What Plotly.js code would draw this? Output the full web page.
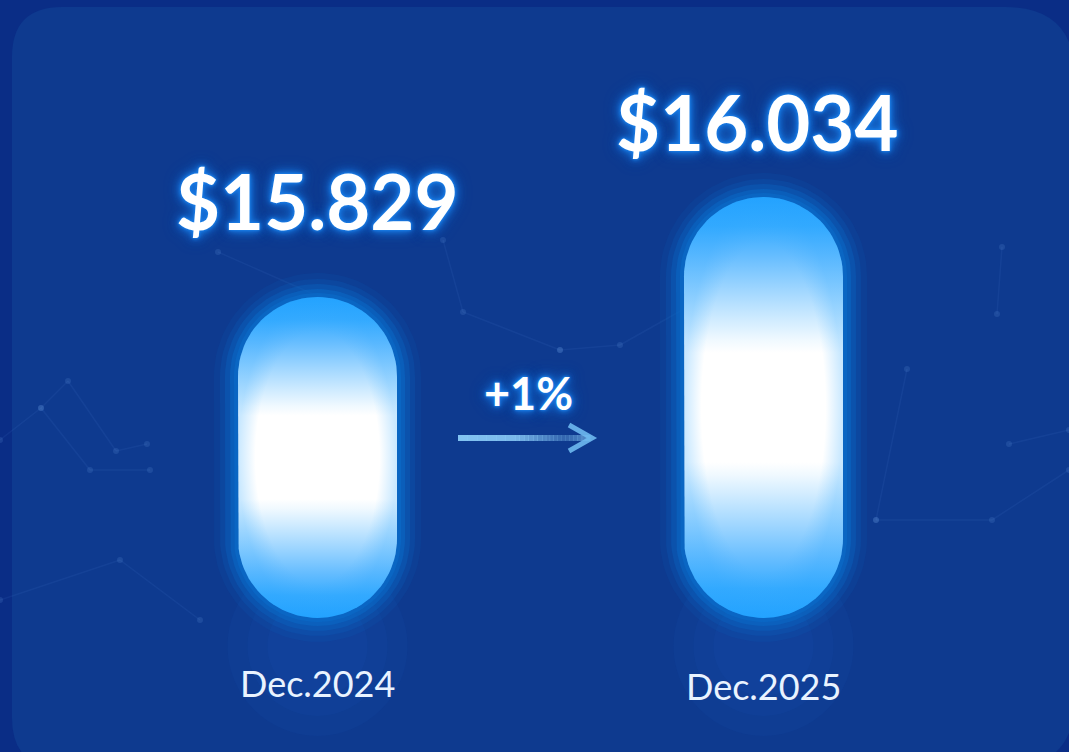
<!DOCTYPE html>
<html>
<head>
<meta charset="utf-8">
<script src="https://cdn.plot.ly/plotly-3.0.1.min.js"></script>
<style>
  html, body { margin: 0; padding: 0; background: #0a2d86; }
  #chart { width: 1069px; height: 752px; }
</style>
</head>
<body>
<div id="chart"></div>
<script>
// ---------------- data ----------------
const categories = ['Dec.2024', 'Dec.2025'];
const values = [15.829, 16.034];
const valueLabels = values.map(v => '$' + v.toFixed(3));
const changePct = Math.round((values[1] / values[0] - 1) * 100);
const changeLabel = (changePct >= 0 ? '+' : '') + changePct + '%';

// ---------------- geometry / scales ----------------
const W = 1069, H = 752;
const X_RANGE = [-0.7119, 1.685];
const Y_RANGE = [14.896, 16.438];
const BASE = 15.171;            // visual floor of the pills
const HALF_W_PX = 79.5;         // pill half width in px (style)
const pxX = W / (X_RANGE[1] - X_RANGE[0]);
const pxY = H / (Y_RANGE[1] - Y_RANGE[0]);
const px = x => x / W;
const py = y => 1 - y / H;

// outline of a pill (capsule) for category i, from BASE up to its value, grown by `extra` px
function pillOutline(i, extra) {
  const r = HALF_W_PX + extra;                  // px
  const top = values[i] + extra / pxY;          // data
  const bot = BASE - extra / pxY;               // data
  const topC = top - r / pxY, botC = bot + r / pxY;
  const xs = [], ys = [];
  const n = 48;
  for (let k = 0; k <= n; k++) {                 // top cap, right -> left
    const a = Math.PI * k / n;
    xs.push(i + r * Math.cos(a) / pxX); ys.push(topC + r * Math.sin(a) / pxY);
  }
  for (let k = 0; k <= n; k++) {                 // bottom cap, left -> right
    const a = Math.PI + Math.PI * k / n;
    xs.push(i + r * Math.cos(a) / pxX); ys.push(botC + r * Math.sin(a) / pxY);
  }
  xs.push(xs[0]); ys.push(ys[0]);
  return { xs, ys };
}

const traces = [];
function addPill(i, extra, fill) {
  const o = pillOutline(i, extra);
  const t = {
    type: 'scatter', mode: 'lines', x: o.xs, y: o.ys, fill: 'toself',
    line: { width: 0, color: 'rgba(0,0,0,0)' }, hoverinfo: 'skip', showlegend: false
  };
  Object.assign(t, fill);
  traces.push(t);
}

// soft reflection below each pill
[[180, 0.05], [140, 0.05], [100, 0.05]].forEach(([s, o]) => {
  traces.push({
    type: 'scatter', mode: 'markers', x: categories.map((c, i) => i),
    y: values.map(() => BASE - 28 / pxY),
    marker: { size: s, color: 'rgba(40,125,230,' + o + ')', line: { width: 0 } },
    hoverinfo: 'skip', showlegend: false
  });
});

const pillScale = [
  [0.00, '#22a2ff'], [0.07, '#36abff'], [0.14, '#66bdff'], [0.22, '#9fd6ff'],
  [0.29, '#cfebff'], [0.34, '#f0f9ff'], [0.37, '#ffffff'], [0.63, '#ffffff'],
  [0.66, '#f0f9ff'], [0.71, '#cfebff'], [0.78, '#9fd6ff'], [0.86, '#66bdff'],
  [0.93, '#36abff'], [1.00, '#22a2ff']
];
const edgeScale = [
  [0.0, 'rgba(39,164,255,0)'], [0.78, 'rgba(39,164,255,0)'], [1.0, 'rgba(39,164,255,0.25)']
];

categories.forEach((c, i) => {
  // outer halo
  [[24, 0.12], [18, 0.2], [13, 0.32], [8, 0.5], [4, 0.7]].forEach(([e, o]) => {
    addPill(i, e, { fillcolor: 'rgba(10,106,200,' + o + ')' });
  });
  // body with vertical glow gradient
  addPill(i, 0, { fillcolor: '#27a4ff', fillgradient: { type: 'vertical', colorscale: pillScale } });
  // slight bluish rim
  addPill(i, 0, { fillcolor: 'rgba(0,0,0,0)', fillgradient: { type: 'radial', colorscale: edgeScale } });
});

// ---------------- decorations ----------------
const shapes = [];
// rounded panel
(function () {
  const x0 = 12, y0 = 7, x1 = 1075, y1 = 768, rl = 50, rr = 70;
  const p = (x, y) => px(x) + ',' + py(y);
  const path = 'M' + p(x0 + rl, y0) + ' L' + p(x1 - rr, y0) + ' Q' + p(x1, y0) + ' ' + p(x1, y0 + rr) +
    ' L' + p(x1, y1 - rr) + ' Q' + p(x1, y1) + ' ' + p(x1 - rr, y1) +
    ' L' + p(x0 + rl, y1) + ' Q' + p(x0, y1) + ' ' + p(x0, y1 - rl) +
    ' L' + p(x0, y0 + rl) + ' Q' + p(x0, y0) + ' ' + p(x0 + rl, y0) + ' Z';
  shapes.push({ type: 'path', xref: 'paper', yref: 'paper', path: path,
    fillcolor: '#0e3a8f', line: { width: 0 }, layer: 'below' });
})();

// faint network lines in background
const netLines = [
  [[0, 440], [41, 408], [68, 381], [116, 451], [147, 444]],
  [[41, 408], [90, 470], [150, 470]],
  [[218, 252], [320, 297]],
  [[443, 240], [463, 312], [560, 350]],
  [[560, 350], [620, 345], [700, 300]],
  [[1002, 247], [997, 314]],
  [[907, 369], [876, 520]],
  [[876, 520], [992, 520], [1069, 470]],
  [[1009, 444], [1069, 430]],
  [[0, 600], [120, 560], [200, 620]]
];
netLines.forEach(pts => {
  for (let i = 0; i < pts.length - 1; i++) {
    shapes.push({ type: 'line', xref: 'paper', yref: 'paper', layer: 'below',
      x0: px(pts[i][0]), y0: py(pts[i][1]), x1: px(pts[i + 1][0]), y1: py(pts[i + 1][1]),
      line: { color: 'rgba(120,170,255,0.07)', width: 1.5 } });
  }
  pts.forEach(pt => {
    shapes.push({ type: 'circle', xref: 'paper', yref: 'paper', layer: 'below',
      x0: px(pt[0] - 3), x1: px(pt[0] + 3), y0: py(pt[1] - 3), y1: py(pt[1] + 3),
      fillcolor: 'rgba(140,190,255,0.13)', line: { width: 0 } });
  });
});

// arrow: body fades out toward the head, chevron head
const arrowStops = [[458, 0.97], [515, 0.9], [542, 0.55], [565, 0.3], [590, 0.6]];
for (let s = 0; s < arrowStops.length - 1; s++) {
  const [xa, oa] = arrowStops[s], [xb, ob] = arrowStops[s + 1];
  const m = 6;
  for (let k = 0; k < m; k++) {
    const a = xa + (xb - xa) * k / m, b = xa + (xb - xa) * (k + 1) / m;
    const o = oa + (ob - oa) * (k + 0.5) / m;
    shapes.push({ type: 'line', xref: 'paper', yref: 'paper',
      x0: px(a), x1: px(b + 0.5), y0: py(438), y1: py(438),
      line: { color: 'rgba(135,200,245,' + o.toFixed(3) + ')', width: 6 } });
  }
}
shapes.push({ type: 'path', xref: 'paper', yref: 'paper',
  path: 'M' + px(569) + ',' + py(425) + ' L' + px(592) + ',' + py(438) + ' L' + px(569) + ',' + py(451),
  line: { color: 'rgba(110,185,240,0.9)', width: 5 } });

// ---------------- annotations ----------------
const glow = '0 0 2px #1b7de6, 0 0 3px #1b7de6, 0 0 5px #1b7de6, 0 0 8px #1874dc, 0 0 12px #1468cc, 0 0 16px #1262c4';
const valueShift = [97, 75.5];
const labelShift = [-65.5, -68.5];
const annotations = [];
categories.forEach((c, i) => {
  annotations.push({
    x: i, y: values[i], xref: 'x', yref: 'y', showarrow: false,
    yanchor: 'middle', xanchor: 'center', yshift: valueShift[i], xshift: i === 1 ? -6 : 0,
    text: valueLabels[i],
    font: { family: 'Lato, "Open Sans", sans-serif', size: 76, weight: 700, color: '#ffffff', shadow: glow }
  });
  annotations.push({
    x: i, y: BASE, xref: 'x', yref: 'y', showarrow: false,
    yanchor: 'middle', xanchor: 'center', yshift: labelShift[i],
    text: c,
    font: { family: 'Lato, "Open Sans", sans-serif', size: 36, color: '#e9f3ff' }
  });
});
annotations.push({
  x: px(528), y: py(392.5), xref: 'paper', yref: 'paper', showarrow: false,
  xanchor: 'center', yanchor: 'middle', text: changeLabel,
  font: { family: 'Lato, "Open Sans", sans-serif', size: 45, weight: 700, color: '#ffffff', shadow: glow }
});

const layout = {
  width: W, height: H,
  margin: { l: 0, r: 0, t: 0, b: 0, pad: 0 },
  paper_bgcolor: '#0a2d86', plot_bgcolor: 'rgba(0,0,0,0)',
  showlegend: false,
  xaxis: { range: X_RANGE, visible: false, fixedrange: true },
  yaxis: { range: Y_RANGE, visible: false, fixedrange: true },
  shapes: shapes, annotations: annotations
};

Plotly.newPlot('chart', traces, layout, { staticPlot: true, displayModeBar: false });
</script>
</body>
</html>
